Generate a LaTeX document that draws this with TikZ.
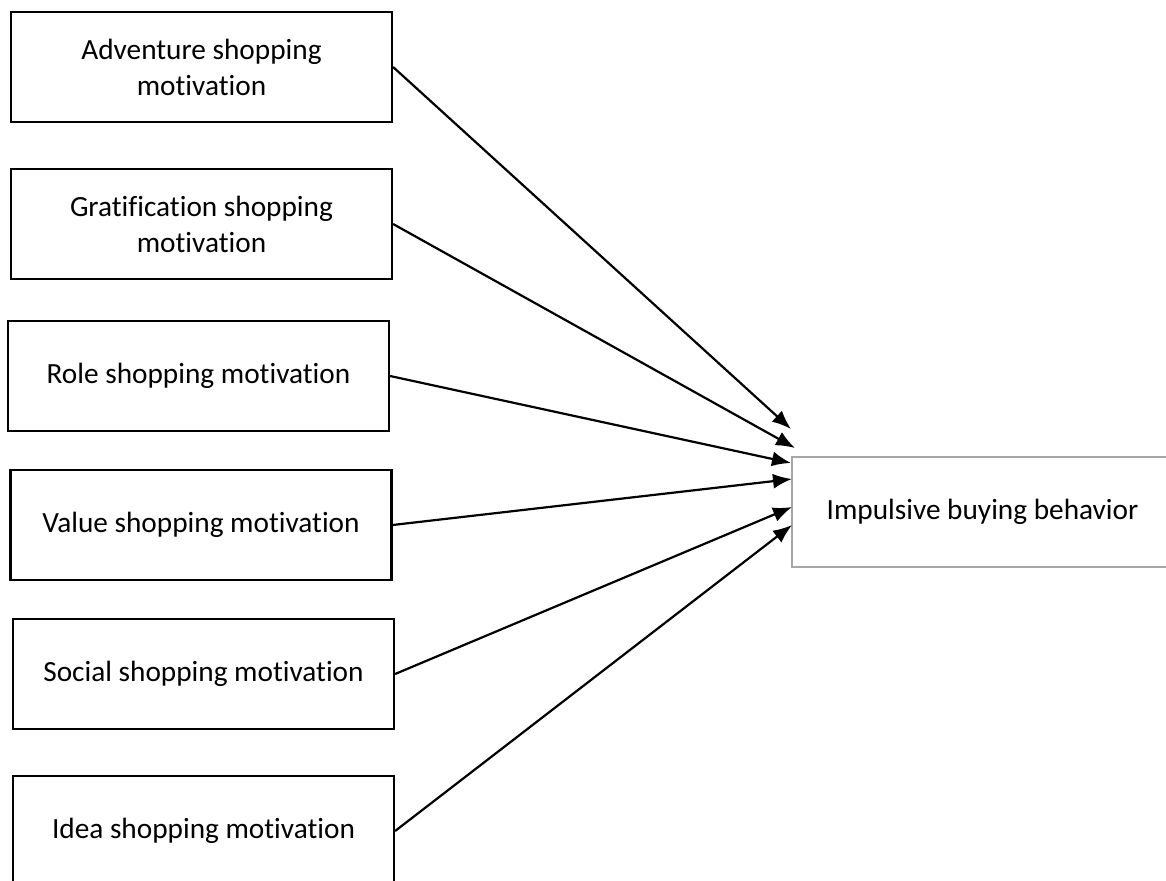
\documentclass[tikz,border=0pt]{standalone}
\usepackage{fontspec}
\setmainfont{Carlito}[Ligatures=NoCommon]
\usepackage{xcolor}
\usepackage{tikz}
\usetikzlibrary{arrows.meta,positioning,calc}
\definecolor{DiagramInk}{HTML}{000000}
\definecolor{DiagramGrey}{HTML}{A6A6A6}

\begin{document}
\begin{tikzpicture}[x=1pt,y=-1pt,>={Latex[length=19pt,width=15pt]},
    motive/.style={draw=DiagramInk,line width=2.2pt,minimum width=381pt,
      minimum height=110pt,align=center,inner sep=0pt,
      font=\fontsize{29.3}{36}\selectfont},
    outcome/.style={motive,draw=DiagramGrey},
    link/.style={->,DiagramInk,line width=2.2pt}]
  \useasboundingbox (0,0) rectangle (1166,880);
  % Motivation boxes.
  \node[motive] (adventure) at (201.5,67) {Adventure shopping\\motivation};
  \node[motive] (gratification) at (201.5,224) {Gratification shopping\\motivation};
  \node[motive] (role) at (198.5,376) {Role shopping motivation};
  \node[motive] (value) at (201,525) {Value shopping motivation};
  \node[motive] (social) at (203.5,674) {Social shopping motivation};
  \node[motive] (idea) at (203.5,831) {Idea shopping motivation};
  % Outcome box.
  \node[outcome] (impulse) at (982.5,512) {Impulsive buying behavior};
  % Arrow tips.
  \coordinate (tipA) at (791,429);
  \coordinate (tipB) at (795,448);
  \coordinate (tipC) at (791,463);
  \coordinate (tipD) at (792,479);
  \coordinate (tipE) at (792,507);
  \coordinate (tipF) at (792,525);
  % Links.
  \draw[link] (adventure.east) -- (tipA);
  \draw[link] (gratification.east) -- (tipB);
  \draw[link] (role.east) -- (tipC);
  \draw[link] (value.east) -- (tipD);
  \draw[link] (social.east) -- (tipE);
  \draw[link] (idea.east) -- (tipF);
\end{tikzpicture}
\end{document}
